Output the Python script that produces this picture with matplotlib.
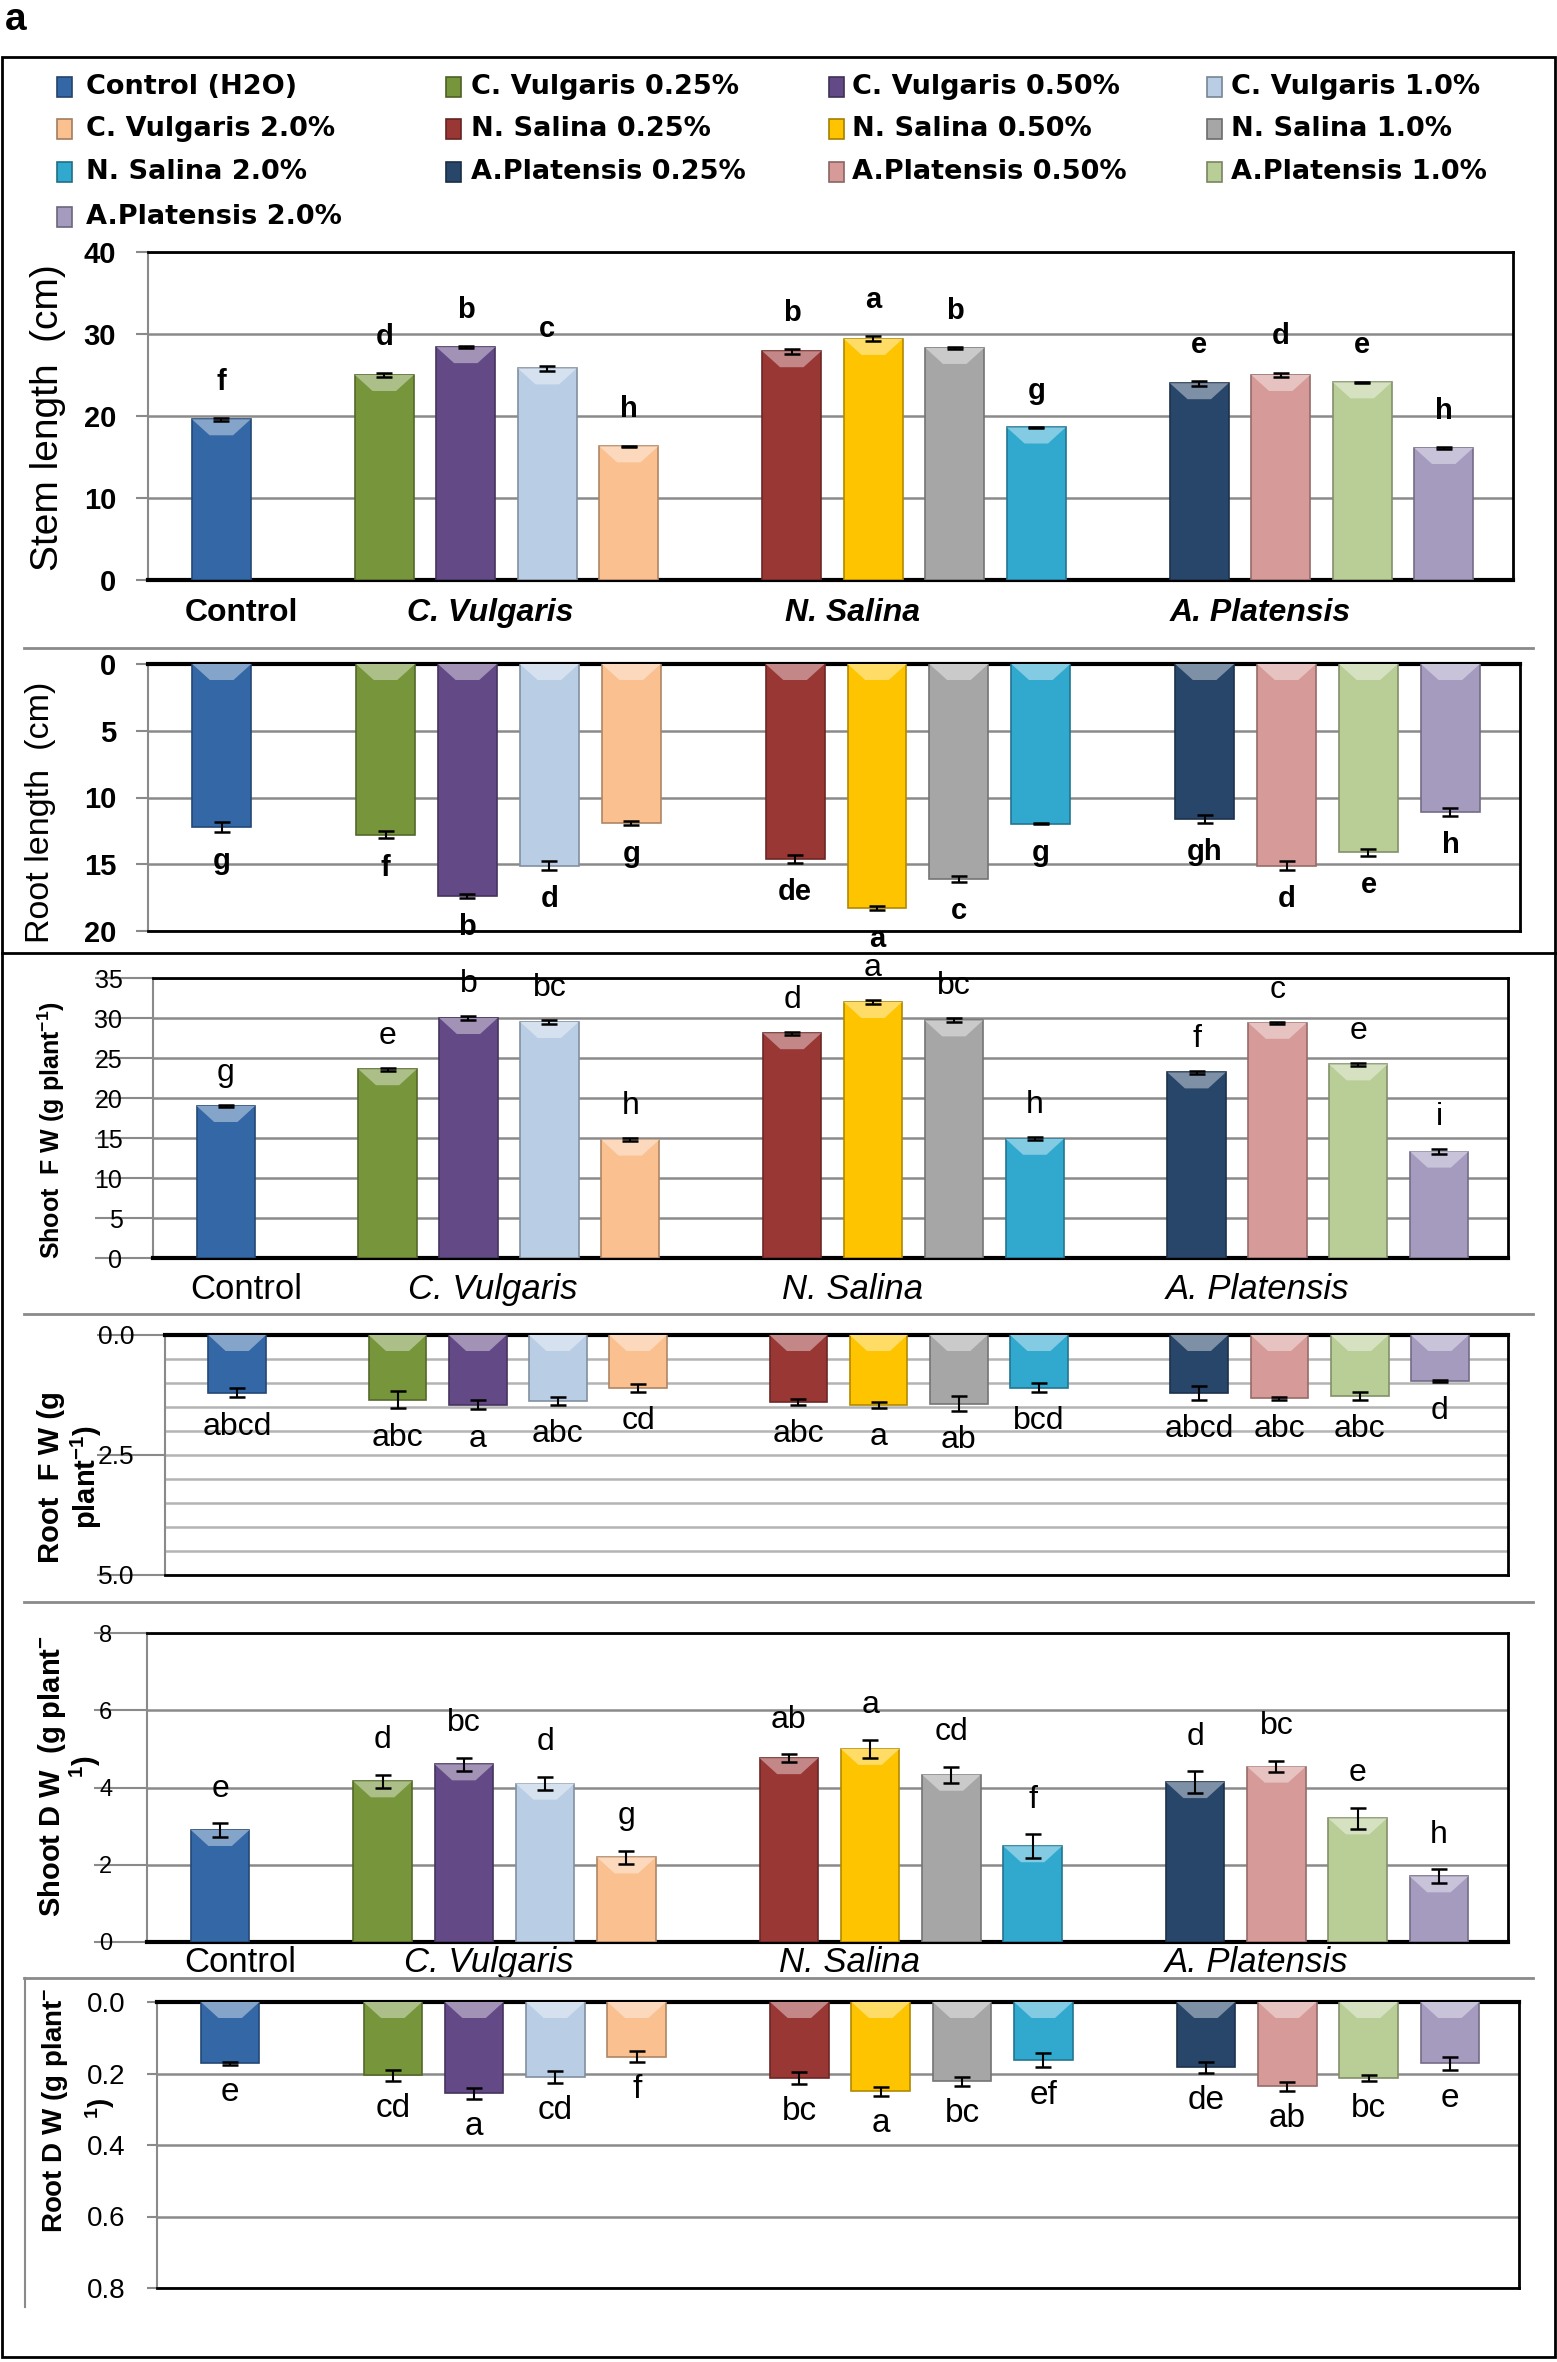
import numpy as np
import matplotlib
matplotlib.use("Agg")
import matplotlib.pyplot as plt
from matplotlib.patches import Rectangle, Polygon
from matplotlib.lines import Line2D
from matplotlib.colors import to_rgb

plt.rcParams['font.family'] = ['Liberation Sans', 'DejaVu Sans']
plt.rcParams['mathtext.default'] = 'regular'

# ---- data ----
series = ['Control (H2O)', 'C. Vulgaris 0.25%', 'C. Vulgaris 0.50%', 'C. Vulgaris 1.0%',
          'C. Vulgaris 2.0%', 'N. Salina 0.25%', 'N. Salina 0.50%', 'N. Salina 1.0%',
          'N. Salina 2.0%', 'A.Platensis 0.25%', 'A.Platensis 0.50%', 'A.Platensis 1.0%',
          'A.Platensis 2.0%']
colors = ['#3467a5', '#77953a', '#634a86', '#b9cde5', '#fac090', '#993735', '#fec400',
          '#a6a6a6', '#31a9cf', '#284669', '#d69a98', '#b9cd96', '#a59bbf']
groups = ['Control', 'C. Vulgaris', 'N. Salina', 'A. Platensis']
group_sizes = [1, 4, 4, 4]

stem_len = [19.6, 25.0, 28.4, 25.8, 16.3, 27.9, 29.4, 28.3, 18.6, 24.0, 25.0, 24.1, 16.1]
stem_err = [0.15, 0.25, 0.1, 0.35, 0.1, 0.3, 0.3, 0.1, 0.1, 0.3, 0.3, 0.1, 0.1]
stem_let = ['f', 'd', 'b', 'c', 'h', 'b', 'a', 'b', 'g', 'e', 'd', 'e', 'h']

root_len = [12.2, 12.8, 17.4, 15.1, 11.9, 14.6, 18.3, 16.1, 11.95, 11.6, 15.1, 14.1, 11.1]
root_err = [0.4, 0.27, 0.15, 0.33, 0.15, 0.3, 0.15, 0.25, 0.05, 0.3, 0.33, 0.27, 0.3]
root_let = ['g', 'f', 'b', 'd', 'g', 'de', 'a', 'c', 'g', 'gh', 'd', 'e', 'h']

shoot_fw = [19.0, 23.6, 30.0, 29.5, 14.8, 28.1, 32.0, 29.7, 14.9, 23.2, 29.4, 24.2, 13.3]
shoot_fw_err = [0.15, 0.2, 0.2, 0.2, 0.2, 0.2, 0.2, 0.25, 0.2, 0.2, 0.1, 0.2, 0.35]
shoot_fw_let = ['g', 'e', 'b', 'bc', 'h', 'd', 'a', 'bc', 'h', 'f', 'c', 'e', 'i']

root_fw = [1.2, 1.35, 1.45, 1.37, 1.1, 1.4, 1.46, 1.43, 1.1, 1.21, 1.32, 1.27, 0.96]
root_fw_err = [0.1, 0.18, 0.1, 0.08, 0.08, 0.06, 0.06, 0.15, 0.09, 0.14, 0.03, 0.09, 0.02]
root_fw_let = ['abcd', 'abc', 'a', 'abc', 'cd', 'abc', 'a', 'ab', 'bcd', 'abcd', 'abc', 'abc', 'd']

shoot_dw = [2.9, 4.16, 4.6, 4.1, 2.19, 4.76, 5.0, 4.33, 2.48, 4.14, 4.54, 3.2, 1.7]
shoot_dw_err = [0.17, 0.17, 0.17, 0.17, 0.17, 0.1, 0.24, 0.21, 0.31, 0.28, 0.15, 0.28, 0.18]
shoot_dw_let = ['e', 'd', 'bc', 'd', 'g', 'ab', 'a', 'cd', 'f', 'd', 'bc', 'e', 'h']

root_dw = [0.172, 0.205, 0.255, 0.21, 0.153, 0.212, 0.25, 0.222, 0.163, 0.183, 0.236, 0.212, 0.172]
root_dw_err = [0.004, 0.015, 0.015, 0.016, 0.015, 0.016, 0.012, 0.012, 0.02, 0.015, 0.013, 0.008, 0.019]
root_dw_let = ['e', 'cd', 'a', 'cd', 'f', 'bc', 'a', 'bc', 'ef', 'de', 'ab', 'bc', 'e']

# ---- layout ----
W, H = 1557, 2362
fig = plt.figure(figsize=(W / 100, H / 100), dpi=100)
fig.patch.set_facecolor('white')

xpos = []
s = 0
for n in group_sizes:
    xpos.extend(range(s, s + n))
    s += n + 1
group_label_x = [0.25, 3.3, 7.75, 12.75]
BAR_W = 0.72
GRID = '#8a8a8a'


def lighten(c, f):
    return tuple(1 - (1 - v) * (1 - f) for v in to_rgb(c))


def darken(c, f):
    return tuple(v * (1 - f) for v in to_rgb(c))


def add_axes_px(l, t, r, b):
    return fig.add_axes([l / W, 1 - b / H, (r - l) / W, (b - t) / H])


def fig_text(x, y, s, **kw):
    return fig.text(x / W, 1 - y / H, s, **kw)


def fig_line(x0, x1, y0, y1, color='black', lw=2.0):
    fig.add_artist(Line2D([x0 / W, x1 / W], [1 - y0 / H, 1 - y1 / H], color=color, lw=lw,
                          transform=fig.transFigure))


def bar_panel(box, vals, errs, lets, ymax, inverted, let_off, let_kw):
    ax = add_axes_px(*box)
    px_h = box[3] - box[1]
    ax.set_xlim(-0.9, 15.85)
    if inverted:
        ax.set_ylim(ymax, 0)
    else:
        ax.set_ylim(0, ymax)
    ax.bar(xpos, vals, BAR_W, color=colors, edgecolor=[darken(c, 0.3) for c in colors],
           linewidth=1.2, zorder=3)
    # light bevel at the top end of each bar
    dy = 16 * ymax / px_h
    for x, v, c in zip(xpos, vals, colors):
        top, base = (0, dy) if inverted else (v, v - dy)
        poly = [(x - BAR_W / 2, top), (x + BAR_W / 2, top), (x + BAR_W * 0.2, base),
                (x - BAR_W * 0.2, base)]
        ax.add_patch(Polygon(poly, closed=True, facecolor=lighten(c, 0.4), edgecolor='none',
                             zorder=4))
    ax.errorbar(xpos, vals, yerr=errs, fmt='none', ecolor='black', elinewidth=1.5,
                capsize=6, capthick=1.8, zorder=5)
    for x, v, e, t in zip(xpos, vals, errs, lets):
        ax.annotate(t, (x, v + e), xytext=(0, let_off), textcoords='offset points',
                    ha='center', va='center', zorder=6, **let_kw)
    ax.set_xticks([])
    ax.yaxis.grid(True, color=GRID, lw=1.8, zorder=0)
    ax.set_axisbelow(True)
    for sp in ['top', 'bottom', 'right']:
        ax.spines[sp].set_color('black')
        ax.spines[sp].set_linewidth(2)
    ax.spines['left'].set_color(GRID)
    ax.spines['left'].set_linewidth(1.5)
    ax.spines['top' if inverted else 'bottom'].set_linewidth(3)
    return ax


def group_labels(ax, off, **kw):
    for p, g in zip(group_label_x, groups):
        ax.annotate(g, (p, 0), xycoords=('data', 'axes fraction'), xytext=(0, -off),
                    textcoords='offset points', ha='center', va='center',
                    style='normal' if g == 'Control' else 'italic', **kw)


# ---- panel 1: stem length ----
bold_let = dict(fontsize=21, fontweight='bold')
reg_let = dict(fontsize=23)

ax1 = bar_panel((148, 252, 1513, 580), stem_len, stem_err, stem_let, 40, False, 26, bold_let)
ax1.set_yticks(np.arange(0, 41, 10))
ax1.tick_params(axis='y', length=9, width=1.5, color=GRID, pad=14, labelsize=21)
for lab in ax1.get_yticklabels():
    lab.set_fontweight('bold')
group_labels(ax1, 24, fontsize=23, fontweight='bold')
fig_text(48, 418, 'Stem length  (cm)', rotation=90, ha='center', va='center', fontsize=28)

# ---- panel 2: root length (hanging bars) ----
ax2 = bar_panel((148, 664, 1520, 931), root_len, root_err, root_let, 20, True, -21, bold_let)
ax2.set_yticks(np.arange(0, 21, 5))
ax2.tick_params(axis='y', length=9, width=1.5, color=GRID, pad=14, labelsize=21)
for lab in ax2.get_yticklabels():
    lab.set_fontweight('bold')
fig_text(41, 812, 'Root length  (cm)', rotation=90, ha='center', va='center', fontsize=24.5)

# ---- panel 3: shoot fresh weight ----
ax3 = bar_panel((153, 978, 1508, 1258), shoot_fw, shoot_fw_err, shoot_fw_let, 35, False, 23, reg_let)
ax3.set_yticks(np.arange(0, 36, 5))
ax3.tick_params(axis='y', length=42, width=1.5, color=GRID, pad=-20, labelsize=18)
group_labels(ax3, 23, fontsize=25)
fig_text(51, 1130, r'Shoot  F W (g plant$^{-1}$)', rotation=90, ha='center', va='center',
         fontsize=18, fontweight='bold')

# ---- panel 4: root fresh weight (hanging bars) ----
ax4 = bar_panel((165, 1335, 1508, 1575), root_fw, root_fw_err, root_fw_let, 5.0, True, -21, reg_let)
ax4.set_yticks([0, 2.5, 5.0])
ax4.set_yticklabels(['0.0', '2.5', '5.0'])
ax4.set_yticks(np.arange(0, 5.01, 0.5), minor=True)
ax4.yaxis.grid(True, which='both', color='#b4b4b4', lw=1.8, zorder=0)
ax4.tick_params(axis='y', which='minor', length=0)
ax4.tick_params(axis='y', length=49, width=1.5, color=GRID, pad=-27, labelsize=19)
fig_text(51, 1477, 'Root  F W (g', rotation=90, ha='center', va='center', fontsize=21,
         fontweight='bold')
fig_text(86, 1477, r'plant$^{-1}$)', rotation=90, ha='center', va='center', fontsize=21,
         fontweight='bold')

# ---- panel 5: shoot dry weight ----
ax5 = bar_panel((147, 1633, 1508, 1942), shoot_dw, shoot_dw_err, shoot_dw_let, 8, False, 25, reg_let)
ax5.set_yticks(np.arange(0, 9, 2))
ax5.tick_params(axis='y', length=38, width=1.5, color=GRID, pad=-13, labelsize=17)
group_labels(ax5, 15, fontsize=25)
fig_text(52, 1776, r'Shoot D W  (g plant$^{-}$', rotation=90, ha='center', va='center',
         fontsize=21, fontweight='bold')
fig_text(85, 1767, r'$^{1}$)', rotation=90, ha='center', va='center', fontsize=21,
         fontweight='bold')

# ---- panel 6: root dry weight (hanging bars) ----
ax6 = bar_panel((157, 2002, 1519, 2288), root_dw, root_dw_err, root_dw_let, 0.8, True, -20,
                dict(fontsize=24))
ax6.set_yticks(np.arange(0, 0.81, 0.2))
ax6.set_yticklabels(['0.0', '0.2', '0.4', '0.6', '0.8'])
ax6.tick_params(axis='y', length=7, width=1.5, color=GRID, pad=16, labelsize=20)
fig_text(55, 2110, r'Root D W (g plant$^{-}$', rotation=90, ha='center', va='center',
         fontsize=20, fontweight='bold')
fig_text(100, 2108, r'$^{1}$)', rotation=90, ha='center', va='center', fontsize=20,
         fontweight='bold')

# ---- legend (row-wise, 4 columns) ----
col_marker = [57, 446, 829, 1207]
col_text = [86, 471, 852, 1231]
row_y = [87, 129, 172, 217]
for i, (lab, c) in enumerate(zip(series, colors)):
    r, k = divmod(i, 4)
    y = row_y[r]
    fig.add_artist(Rectangle((col_marker[k] / W, 1 - (y + 10) / H), 15 / W, 20 / H,
                             facecolor=c, edgecolor=darken(c, 0.35), lw=1.2,
                             transform=fig.transFigure))
    fig_text(col_text[k], y, lab, ha='left', va='center', fontsize=19.5, fontweight='bold',
             family='DejaVu Sans')

# ---- frame and separators ----
fig.add_artist(Rectangle((2 / W, 1 - 2357 / H), 1553 / W, 2300 / H, fill=False,
                         edgecolor='black', lw=2, transform=fig.transFigure))
fig_line(2, 1555, 953, 953)
for yy in [648, 1314, 1602, 1978]:
    fig_line(24, 1533, yy, yy, color=GRID, lw=2)
fig_line(25, 25, 1978, 2307, color=GRID, lw=1.5)
fig_text(16, 20, 'a', ha='center', va='center', fontsize=28, fontweight='bold')

fig.savefig('out.png', dpi=100)
